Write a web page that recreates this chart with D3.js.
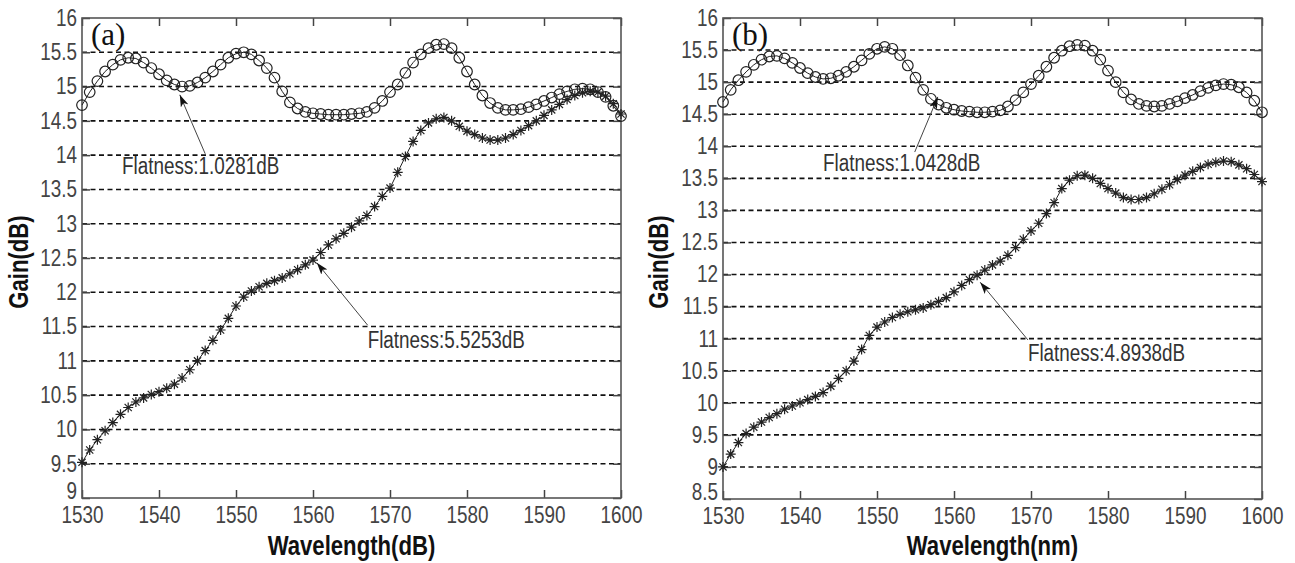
<!DOCTYPE html>
<html>
<head>
<meta charset="utf-8">
<script src="https://cdn.jsdelivr.net/npm/d3@7"></script>
<style>
  body { margin: 0; background: #fff; }
  text { font-family: "Liberation Sans", Arial, sans-serif; }
</style>
</head>
<body>
<div id="chart"></div>
<script>
// wavelength samples (nm)
const wavelength = [1530, 1531, 1532, 1533, 1534, 1535, 1536, 1537, 1538, 1539,
  1540, 1541, 1542, 1543, 1544, 1545, 1546, 1547, 1548, 1549,
  1550, 1551, 1552, 1553, 1554, 1555, 1556, 1557, 1558, 1559,
  1560, 1561, 1562, 1563, 1564, 1565, 1566, 1567, 1568, 1569,
  1570, 1571, 1572, 1573, 1574, 1575, 1576, 1577, 1578, 1579,
  1580, 1581, 1582, 1583, 1584, 1585, 1586, 1587, 1588, 1589,
  1590, 1591, 1592, 1593, 1594, 1595, 1596, 1597, 1598, 1599, 1600];

// panel (a)
const gainA_circle = [14.73, 14.92, 15.08, 15.22, 15.32, 15.39, 15.42, 15.41, 15.35, 15.27,
  15.18, 15.09, 15.03, 15.00, 15.01, 15.06, 15.13, 15.22, 15.32, 15.42,
  15.48, 15.50, 15.47, 15.38, 15.27, 15.13, 14.93, 14.77, 14.68, 14.63,
  14.61, 14.60, 14.59, 14.59, 14.59, 14.60, 14.61, 14.63, 14.69, 14.79,
  14.92, 15.03, 15.20, 15.35, 15.47, 15.56, 15.61, 15.62, 15.56, 15.42,
  15.22, 15.03, 14.87, 14.76, 14.69, 14.66, 14.66, 14.67, 14.70, 14.74,
  14.79, 14.84, 14.89, 14.93, 14.96, 14.97, 14.96, 14.92, 14.85, 14.72, 14.57];
const gainA_star = [9.52, 9.70, 9.85, 9.98, 10.10, 10.22, 10.32, 10.40, 10.46, 10.51,
  10.55, 10.60, 10.66, 10.75, 10.87, 11.00, 11.15, 11.30, 11.45, 11.62,
  11.80, 11.93, 12.02, 12.08, 12.13, 12.17, 12.21, 12.27, 12.33, 12.40,
  12.47, 12.58, 12.69, 12.78, 12.86, 12.95, 13.04, 13.12, 13.25, 13.40,
  13.52, 13.75, 13.98, 14.20, 14.36, 14.47, 14.53, 14.55, 14.50, 14.42,
  14.35, 14.30, 14.25, 14.22, 14.22, 14.25, 14.30, 14.36, 14.43, 14.50,
  14.58, 14.66, 14.74, 14.81, 14.87, 14.91, 14.93, 14.92, 14.86, 14.75, 14.60];

// panel (b)
const gainB_circle = [14.69, 14.88, 15.03, 15.16, 15.27, 15.35, 15.40, 15.41, 15.37, 15.30,
  15.22, 15.14, 15.08, 15.05, 15.06, 15.10, 15.16, 15.24, 15.34, 15.44,
  15.52, 15.55, 15.52, 15.42, 15.26, 15.07, 14.88, 14.74, 14.65, 14.60,
  14.57, 14.55, 14.54, 14.53, 14.53, 14.54, 14.56, 14.62, 14.72, 14.84,
  14.97, 15.10, 15.24, 15.38, 15.49, 15.56, 15.58, 15.57, 15.49, 15.35,
  15.18, 15.00, 14.84, 14.73, 14.66, 14.63, 14.62, 14.63, 14.66, 14.70,
  14.75, 14.80, 14.86, 14.91, 14.95, 14.97, 14.96, 14.92, 14.84, 14.71, 14.53];
const gainB_star = [9.00, 9.20, 9.38, 9.52, 9.62, 9.70, 9.77, 9.83, 9.90, 9.95,
  10.00, 10.05, 10.10, 10.16, 10.26, 10.38, 10.50, 10.65, 10.83, 11.05,
  11.18, 11.26, 11.33, 11.38, 11.42, 11.45, 11.48, 11.53, 11.58, 11.64,
  11.73, 11.83, 11.92, 11.99, 12.07, 12.15, 12.21, 12.30, 12.42, 12.55,
  12.68, 12.80, 12.95, 13.12, 13.34, 13.47, 13.54, 13.55, 13.50, 13.42,
  13.34, 13.27, 13.20, 13.17, 13.17, 13.20, 13.26, 13.33, 13.40, 13.48,
  13.55, 13.61, 13.67, 13.72, 13.75, 13.77, 13.76, 13.71, 13.65, 13.56, 13.45];

const xTicks = [1530, 1540, 1550, 1560, 1570, 1580, 1590, 1600];
const yTicksA = [9, 9.5, 10, 10.5, 11, 11.5, 12, 12.5, 13, 13.5, 14, 14.5, 15, 15.5, 16];
const yTicksB = [8.5, 9, 9.5, 10, 10.5, 11, 11.5, 12, 12.5, 13, 13.5, 14, 14.5, 15, 15.5, 16];

// annotations: label, arrow tip, arrow tail, text anchor (data units)
const notesA = [
  { text: "Flatness:1.0281dB", tip: [1542.7, 14.88], tail: [1546.0, 14.02], at: [1535.2, 13.72] },
  { text: "Flatness:5.5253dB", tip: [1560.5, 12.43], tail: [1567.1, 11.52], at: [1567.1, 11.19] }
];
const notesB = [
  { text: "Flatness:1.0428dB", tip: [1557.9, 14.77], tail: [1554.9, 13.91], at: [1543.0, 13.61] },
  { text: "Flatness:4.8938dB", tip: [1563.4, 11.88], tail: [1569.6, 10.98], at: [1569.6, 10.65] }
];

const W = 1295, H = 563;
const SQUEEZE = 0.82; // source figure text is horizontally condensed

let svg = d3.select("#chart")
  .append("svg")
  .attr("width", W)
  .attr("height", H);

let defs = svg.append("defs");
defs.append("marker")
  .attr("id", "arrow")
  .attr("viewBox", "0 0 12 8")
  .attr("refX", 12)
  .attr("refY", 4)
  .attr("markerWidth", 12)
  .attr("markerHeight", 8)
  .attr("markerUnits", "userSpaceOnUse")
  .attr("orient", "auto")
  .append("path")
  .attr("d", "M0,0L12,4L0,8L3,4Z")
  .attr("fill", "#111");

drawPanel({
  left: 82, right: 621, top: 18, bottom: 498,
  yDomain: [9, 16], yTicks: yTicksA,
  circles: gainA_circle, stars: gainA_star,
  tag: "(a)", xLabel: "Wavelength(dB)", notes: notesA, yLabelX: 28
});

drawPanel({
  left: 723, right: 1262, top: 18, bottom: 499,
  yDomain: [8.5, 16], yTicks: yTicksB,
  circles: gainB_circle, stars: gainB_star,
  tag: "(b)", xLabel: "Wavelength(nm)", notes: notesB, yLabelX: 668
});

// condense every sans text so it looks like the narrow original
svg.selectAll("text.sq").each(function() {
  let len = this.getComputedTextLength();
  if (len > 0) {
    d3.select(this)
      .attr("textLength", len * SQUEEZE)
      .attr("lengthAdjust", "spacingAndGlyphs");
  }
});

function drawPanel(p) {
  let x = d3.scaleLinear().domain([1530, 1600]).range([p.left, p.right]);
  let y = d3.scaleLinear().domain(p.yDomain).range([p.bottom, p.top]);

  let g = svg.append("g");

  // dashed horizontal grid
  let inner = p.yTicks.filter(t => t > p.yDomain[0] && t < p.yDomain[1]);
  g.append("g").selectAll("line")
    .data(inner)
    .enter().append("line")
    .attr("x1", p.left).attr("x2", p.right)
    .attr("y1", d => y(d)).attr("y2", d => y(d))
    .attr("stroke", "#111")
    .attr("stroke-width", 1.6)
    .attr("stroke-dasharray", "5,3.5");

  // axes with inward ticks
  let fmt = d => String(d);
  let xb = g.append("g")
    .attr("transform", translate(0, p.bottom))
    .call(d3.axisBottom(x).tickValues(xTicks).tickFormat(fmt).tickSizeInner(-8).tickSizeOuter(0).tickPadding(9));
  let xt = g.append("g")
    .attr("transform", translate(0, p.top))
    .call(d3.axisTop(x).tickValues(xTicks).tickFormat("").tickSizeInner(-8).tickSizeOuter(0));
  let yl = g.append("g")
    .attr("transform", translate(p.left, 0))
    .call(d3.axisLeft(y).tickValues(p.yTicks).tickFormat(fmt).tickSizeInner(-8).tickSizeOuter(0).tickPadding(5));
  let yr = g.append("g")
    .attr("transform", translate(p.right, 0))
    .call(d3.axisRight(y).tickValues(p.yTicks).tickFormat("").tickSizeInner(-8).tickSizeOuter(0));

  [xb, xt, yl, yr].forEach(a => {
    a.attr("font-family", null).attr("font-size", null);
    a.select(".domain").remove();
    a.selectAll("line").attr("stroke", "#444").attr("stroke-width", 1.5);
    a.selectAll("text")
      .attr("class", "sq")
      .style("font-size", "23px")
      .attr("fill", "#444");
  });
  // lowest y label sits just above the corner, as in the source
  yl.selectAll("text").filter(d => d === p.yDomain[0]).attr("dy", "0em");

  // frame
  g.append("rect")
    .attr("x", p.left).attr("y", p.top)
    .attr("width", p.right - p.left).attr("height", p.bottom - p.top)
    .attr("fill", "none")
    .attr("stroke", "#555")
    .attr("stroke-width", 1.6);

  let line = d3.line()
    .x((d, i) => x(wavelength[i]))
    .y(d => y(d));

  // circle series
  g.append("path")
    .datum(p.circles)
    .attr("d", line)
    .attr("fill", "none")
    .attr("stroke", "#222")
    .attr("stroke-width", 1);
  g.append("g").selectAll("circle")
    .data(p.circles)
    .enter().append("circle")
    .attr("cx", (d, i) => x(wavelength[i]))
    .attr("cy", d => y(d))
    .attr("r", 5.3)
    .attr("fill", "none")
    .attr("stroke", "#222")
    .attr("stroke-width", 1.2);

  // star series
  g.append("path")
    .datum(p.stars)
    .attr("d", line)
    .attr("fill", "none")
    .attr("stroke", "#222")
    .attr("stroke-width", 1);
  g.append("g").selectAll("path")
    .data(p.stars)
    .enter().append("path")
    .attr("transform", (d, i) => translate(x(wavelength[i]), y(d)))
    .attr("d", "M-5,0H5M0,-5V5M-3.6,-3.6L3.6,3.6M-3.6,3.6L3.6,-3.6")
    .attr("stroke", "#222")
    .attr("stroke-width", 1.2);

  // annotations
  p.notes.forEach(n => {
    g.append("line")
      .attr("x1", x(n.tail[0])).attr("y1", y(n.tail[1]))
      .attr("x2", x(n.tip[0])).attr("y2", y(n.tip[1]))
      .attr("stroke", "#444")
      .attr("stroke-width", 1)
      .attr("marker-end", "url(#arrow)");
    g.append("text")
      .attr("class", "sq")
      .attr("x", x(n.at[0]))
      .attr("y", y(n.at[1]))
      .style("font-size", "23px")
      .attr("fill", "#333")
      .text(n.text);
  });

  // panel tag
  g.append("text")
    .attr("x", p.left + 9)
    .attr("y", p.top + 27)
    .style("font-family", "'Liberation Serif', 'Times New Roman', serif")
    .attr("font-size", 31)
    .attr("fill", "#111")
    .text(p.tag);

  // axis titles
  g.append("text")
    .attr("class", "sq")
    .attr("x", (p.left + p.right) / 2)
    .attr("y", 555)
    .attr("text-anchor", "middle")
    .style("font-size", "27px")
    .attr("font-weight", "bold")
    .attr("fill", "#111")
    .text(p.xLabel);

  g.append("text")
    .attr("class", "sq")
    .attr("transform", translate(p.yLabelX, 262) + " rotate(-90)")
    .attr("text-anchor", "middle")
    .style("font-size", "27px")
    .attr("font-weight", "bold")
    .attr("fill", "#111")
    .text("Gain(dB)");
}

function translate(x, y) {
  return 'translate(' + x + ',' + y + ')';
}
</script>
</body>
</html>
